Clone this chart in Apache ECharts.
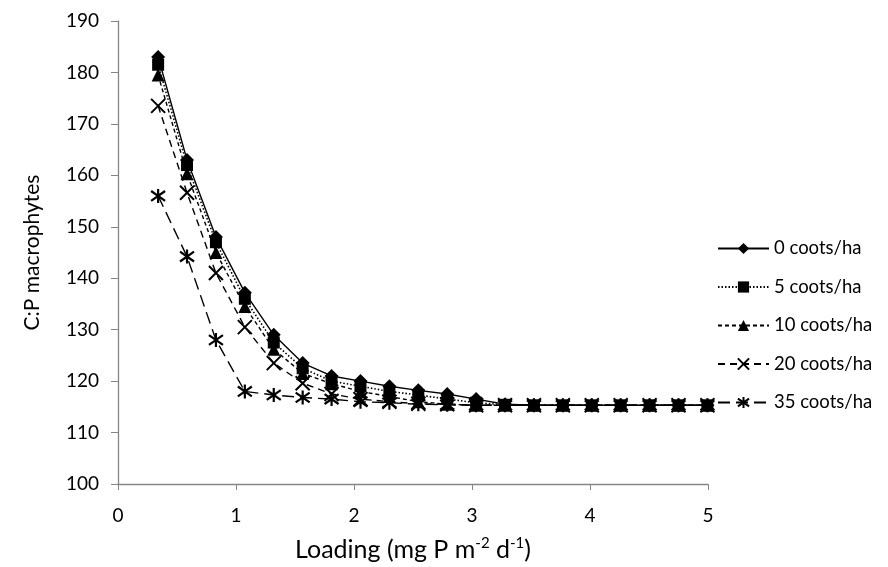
<!DOCTYPE html>
<html>
<head>
<meta charset="utf-8">
<script src="https://cdn.jsdelivr.net/npm/echarts@6/dist/echarts.min.js"></script>
<style>
  html, body { margin: 0; padding: 0; background: #fff; }
  #chart { width: 888px; height: 567px; }
</style>
</head>
<body>
<div id="chart"></div>
<script>
var loading = [0.34, 0.585, 0.83, 1.075, 1.32, 1.565, 1.81, 2.055, 2.3, 2.545,
    2.79, 3.035, 3.28, 3.525, 3.77, 4.015, 4.26, 4.505, 4.75, 4.995];

var coots0 = [183, 163, 148, 137.2, 129, 123.5, 121, 120, 119, 118.2,
    117.5, 116.5, 115.5, 115.3, 115.3, 115.3, 115.3, 115.3, 115.3, 115.3];
var coots5 = [181.5, 162, 147, 136, 127.5, 122.5, 120, 119, 118, 117.3,
    116.5, 115.8, 115.4, 115.3, 115.3, 115.3, 115.3, 115.3, 115.3, 115.3];
var coots10 = [179.5, 160.3, 145, 134.5, 126.2, 121.5, 119.5, 118, 117, 116,
    115.5, 115.3, 115.3, 115.3, 115.3, 115.3, 115.3, 115.3, 115.3, 115.3];
var coots20 = [173.5, 156.6, 141, 130.5, 123.5, 119.6, 117.5, 116.5, 116, 115.6,
    115.5, 115.3, 115.3, 115.3, 115.3, 115.3, 115.3, 115.3, 115.3, 115.3];
var coots35 = [156, 144.2, 128, 118, 117.3, 116.8, 116.5, 116, 115.8, 115.5,
    115.4, 115.3, 115.3, 115.3, 115.3, 115.3, 115.3, 115.3, 115.3, 115.3];

var seriesNames = ['0 coots/ha', '5 coots/ha', '10 coots/ha', '20 coots/ha', '35 coots/ha'];

var crossPath = 'path://M0,0L10,10M10,0L0,10';
var starPath = 'path://M5,0L5,10M0,1.5L10,8.5M0,8.5L10,1.5';

function pairs(ys) {
    var out = [];
    for (var i = 0; i < ys.length; i++) {
        out.push([loading[i], ys[i]]);
    }
    return out;
}

var fontName = 'Lato';

var series0 = {
    name: seriesNames[0],
    type: 'line',
    symbol: 'diamond',
    symbolSize: 14,
    lineStyle: { color: '#000', width: 1.4, type: 'solid' },
    itemStyle: { color: '#000' },
    data: pairs(coots0)
};
var series1 = {
    name: seriesNames[1],
    type: 'line',
    symbol: 'rect',
    symbolSize: 12,
    lineStyle: { color: '#000', width: 1.6, type: [1.5, 2] },
    itemStyle: { color: '#000' },
    data: pairs(coots5)
};
var series2 = {
    name: seriesNames[2],
    type: 'line',
    symbol: 'triangle',
    symbolSize: 13,
    lineStyle: { color: '#000', width: 1.4, type: [4, 3] },
    itemStyle: { color: '#000' },
    data: pairs(coots10)
};
var series3 = {
    name: seriesNames[3],
    type: 'line',
    symbol: crossPath,
    symbolSize: 14,
    lineStyle: { color: '#000', width: 1.4, type: [7, 5] },
    itemStyle: { color: '#000', borderColor: '#000', borderWidth: 2 },
    data: pairs(coots20)
};
var series4 = {
    name: seriesNames[4],
    type: 'line',
    symbol: starPath,
    symbolSize: 14,
    lineStyle: { color: '#000', width: 1.4, type: [12, 6] },
    itemStyle: { color: '#000', borderColor: '#000', borderWidth: 2.2 },
    data: pairs(coots35)
};

var chart = echarts.init(document.getElementById('chart'));
var option = {
    animation: false,
    backgroundColor: '#fff',
    textStyle: { fontFamily: fontName },
    grid: { left: 118, right: 180, top: 21, bottom: 83 },
    legend: {
        orient: 'vertical',
        left: 712,
        top: 234,
        itemWidth: 51,
        itemHeight: 14,
        itemGap: 19.5,
        data: seriesNames,
        textStyle: { fontFamily: fontName, fontSize: 18.5, color: '#000', padding: [0, 0, 0, 0] }
    },
    xAxis: {
        type: 'value',
        min: 0,
        max: 5,
        interval: 1,
        name: 'Loading (mg P m{sup|-2} d{sup|-1})',
        nameLocation: 'middle',
        nameGap: 52,
        nameTextStyle: {
            fontFamily: fontName, fontSize: 25, color: '#000',
            rich: { sup: { fontFamily: fontName, fontSize: 15, color: '#000', verticalAlign: 'top', padding: [0, 0, 12, 0] } }
        },
        axisLine: { lineStyle: { color: '#868686', width: 1.3 } },
        axisTick: { show: true, inside: false, length: 6, lineStyle: { color: '#868686' } },
        axisLabel: { fontFamily: fontName, fontSize: 19, color: '#000', margin: 22 },
        splitLine: { show: false }
    },
    yAxis: {
        type: 'value',
        min: 100,
        max: 190,
        interval: 10,
        name: 'C:P macrophytes',
        nameLocation: 'middle',
        nameGap: 75,
        nameTextStyle: { fontFamily: fontName, fontSize: 21, color: '#000' },
        axisLine: { show: true, lineStyle: { color: '#868686', width: 1.3 } },
        axisTick: { show: true, inside: false, length: 7, lineStyle: { color: '#868686' } },
        axisLabel: { fontFamily: fontName, fontSize: 19, color: '#000', margin: 19 },
        splitLine: { show: false }
    },
    series: [series4, series3, series2, series1, series0]
};
chart.setOption(option);
</script>
</body>
</html>
